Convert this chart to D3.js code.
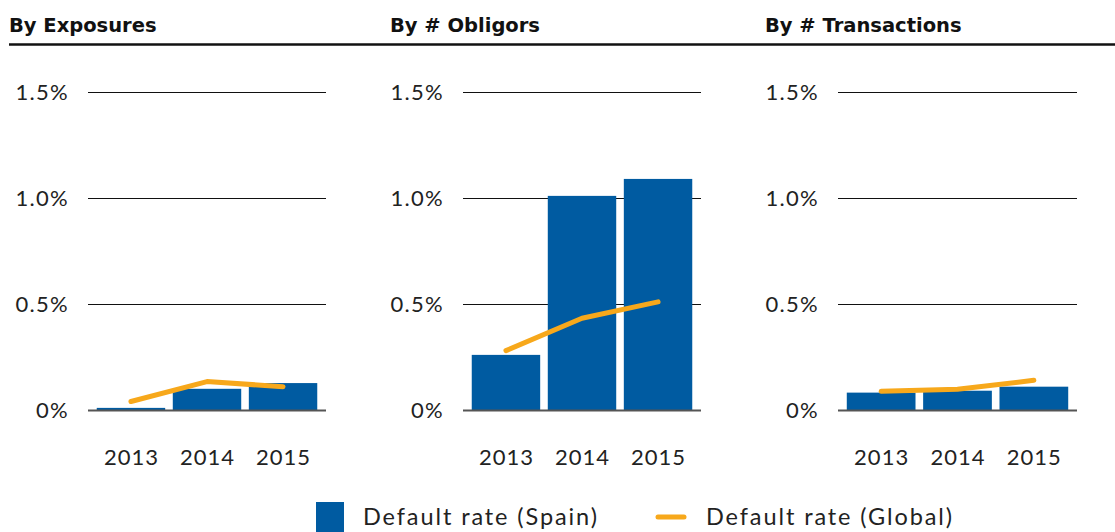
<!DOCTYPE html>
<html>
<head>
<meta charset="utf-8">
<script src="https://cdn.jsdelivr.net/npm/d3@7"></script>
<style>
  body { margin: 0; background: #fff; }
  svg { display: block; }
</style>
</head>
<body>
<div id="chart"></div>
<script>
// Default rates, in %
const years = ['2013', '2014', '2015'];
const panelTitles = ['By Exposures', 'By # Obligors', 'By # Transactions'];
const spainRates = [
  [0.01, 0.10, 0.127],
  [0.26, 1.01, 1.09],
  [0.082, 0.091, 0.11]
];
const globalRates = [
  [0.04, 0.134, 0.11],
  [0.28, 0.433, 0.51],
  [0.088, 0.098, 0.14]
];
const yTicks = [0, 0.5, 1.0, 1.5];
const tickLabels = ['0%', '0.5%', '1.0%', '1.5%'];
const legendLabels = ['Default rate (Spain)', 'Default rate (Global)'];

const W = 1115, H = 532;
const blue = '#005ba1', orange = '#f7a81b';
const font = 'Lato, "Open Sans", sans-serif';

const svg = d3.select('#chart').append('svg')
  .attr('width', W).attr('height', H);

// panel left edges (title), plot area left/right
const panelX = [9, 390, 765];
const plotX = [[88, 326], [463, 701], [838, 1077]];

const y = d3.scaleLinear().domain([0, 1.5]).range([410, 92]);

panelTitles.forEach((title, i) => {
  const g = svg.append('g');

  g.append('text')
    .attr('x', panelX[i]).attr('y', 32)
    .style('font-family', '"DejaVu Sans", sans-serif')
    .style('font-weight', 'bold')
    .style('font-size', '19.5px')
    .style('fill', '#111')
    .text(title);

  const nextX = i < 2 ? panelX[i + 1] : W;
  g.append('line')
    .attr('x1', panelX[i]).attr('x2', nextX)
    .attr('y1', 44.5).attr('y2', 44.5)
    .attr('stroke', '#111').attr('stroke-width', 2.5);

  const x = d3.scaleBand()
    .domain(years)
    .range(plotX[i])
    .paddingInner(0.1)
    .paddingOuter(0.115);

  // gridlines (non-zero)
  g.selectAll('.grid')
    .data(yTicks.filter(t => t > 0))
    .enter().append('line')
    .attr('x1', plotX[i][0]).attr('x2', plotX[i][1])
    .attr('y1', d => Math.round(y(d)) + 0.5).attr('y2', d => Math.round(y(d)) + 0.5)
    .attr('stroke', '#111').attr('stroke-width', 1.2);

  // tick labels
  g.selectAll('.tick-label')
    .data(yTicks)
    .enter().append('text')
    .attr('x', plotX[i][0] - 19)
    .attr('y', d => y(d) + 8)
    .attr('text-anchor', 'end')
    .style('font-family', font)
    .style('font-size', '22px')
    .style('letter-spacing', '1.3px')
    .style('fill', '#222')
    .text((d, k) => tickLabels[k]);

  // bars
  g.selectAll('.bar')
    .data(spainRates[i])
    .enter().append('rect')
    .attr('x', (d, k) => x(years[k]))
    .attr('width', x.bandwidth())
    .attr('y', d => y(d))
    .attr('height', d => y(0) - y(d))
    .attr('fill', blue);

  // baseline
  g.append('line')
    .attr('x1', plotX[i][0]).attr('x2', plotX[i][1])
    .attr('y1', y(0) + 0.5).attr('y2', y(0) + 0.5)
    .attr('stroke', '#555').attr('stroke-width', 2);

  // global line
  const line = d3.line()
    .x((d, k) => x(years[k]) + x.bandwidth() / 2)
    .y(d => y(d));
  g.append('path')
    .datum(globalRates[i])
    .attr('d', line)
    .attr('fill', 'none')
    .attr('stroke', orange)
    .attr('stroke-width', 5)
    .attr('stroke-linecap', 'round')
    .attr('stroke-linejoin', 'round');

  // x labels
  g.selectAll('.year')
    .data(years)
    .enter().append('text')
    .attr('x', d => x(d) + x.bandwidth() / 2 + 0.5)
    .attr('y', 465)
    .attr('text-anchor', 'middle')
    .style('font-family', font)
    .style('font-size', '22px')
    .style('letter-spacing', '1px')
    .style('fill', '#222')
    .text(d => d);
});

// legend
const legend = svg.append('g');
legend.append('rect')
  .attr('x', 316).attr('y', 502).attr('width', 28).attr('height', 30)
  .attr('fill', blue);
legend.append('text')
  .attr('x', 363).attr('y', 525)
  .style('font-family', font).style('font-size', '23.5px')
  .style('letter-spacing', '1.9px').style('fill', '#222')
  .text(legendLabels[0]);
legend.append('line')
  .attr('x1', 658).attr('x2', 684).attr('y1', 517).attr('y2', 517)
  .attr('stroke', orange).attr('stroke-width', 5).attr('stroke-linecap', 'round');
legend.append('text')
  .attr('x', 706).attr('y', 525)
  .style('font-family', font).style('font-size', '23.5px')
  .style('letter-spacing', '1.9px').style('fill', '#222')
  .text(legendLabels[1]);
</script>
</body>
</html>
